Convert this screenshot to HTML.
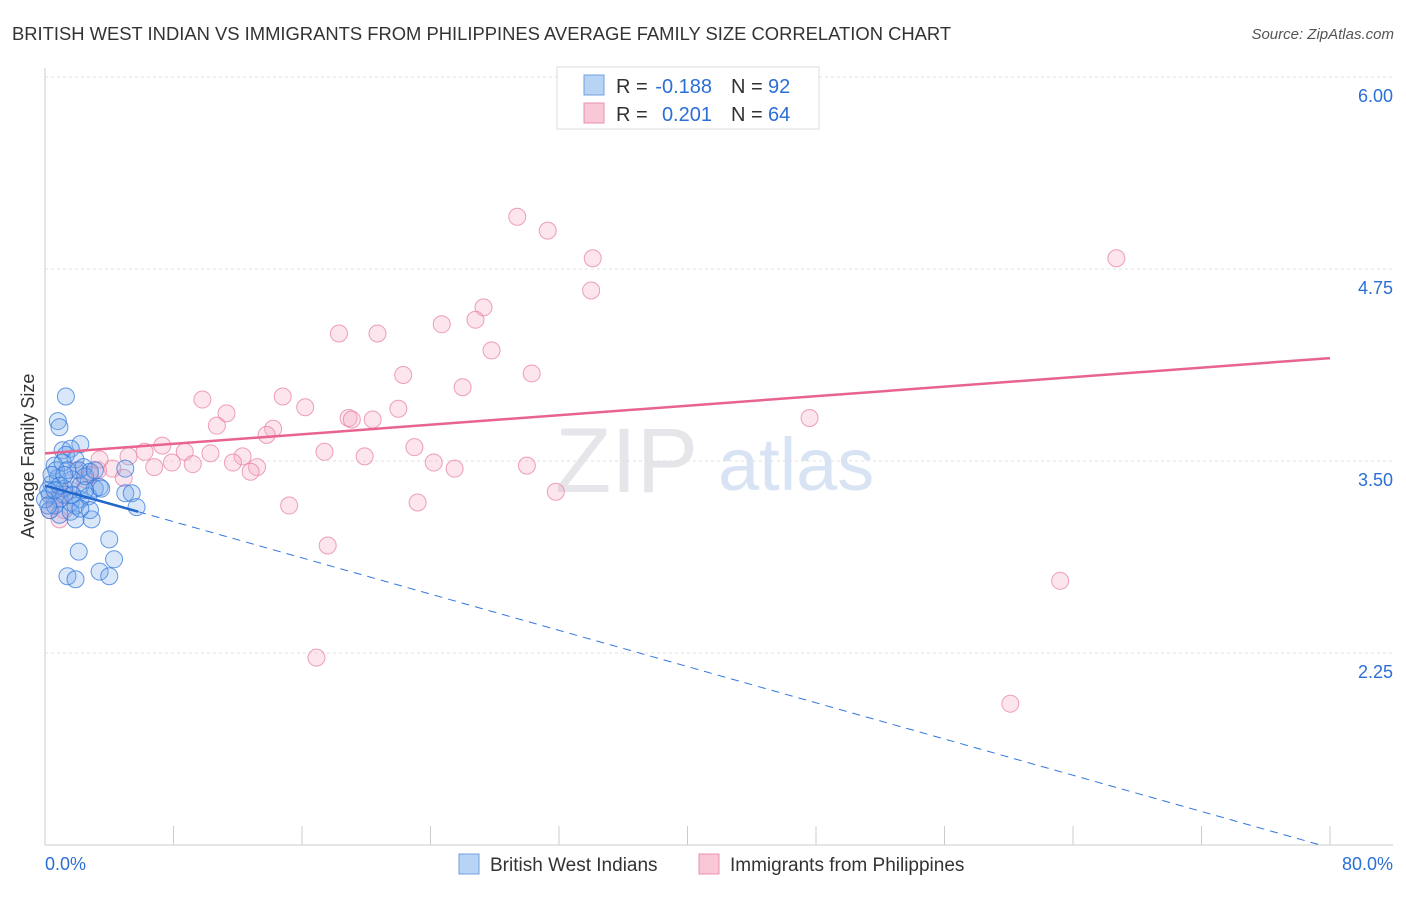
<!DOCTYPE html>
<html><head><meta charset="utf-8"><style>
body{margin:0;background:#fff;font-family:"Liberation Sans",sans-serif}
svg text{font-family:"Liberation Sans",sans-serif}
</style></head><body>
<svg id="c" width="1406" height="892">
<text x="12" y="40" font-size="18.4" fill="#333">BRITISH WEST INDIAN VS IMMIGRANTS FROM PHILIPPINES AVERAGE FAMILY SIZE CORRELATION CHART</text>
<text x="1394" y="39" font-size="15" fill="#555" font-style="italic" text-anchor="end">Source: ZipAtlas.com</text>
<text x="34" y="456" font-size="18" fill="#333" text-anchor="middle" transform="rotate(-90 34 456)">Average Family Size</text>
<text x="555" y="492" font-size="92" fill="#e6e6ea" font-family="Liberation Serif">ZIP</text>
<text x="718" y="490" font-size="74" fill="#d8e4f3">atlas</text>
<g id="grid"></g><g id="pts"></g><g id="trend"></g>
<g>
<rect x="557" y="67" width="262" height="62" fill="#fff" stroke="#ddd"/>
<rect x="584" y="75" width="20" height="20" fill="#b8d4f5" stroke="#6fa0e0"/>
<rect x="584" y="103" width="20" height="20" fill="#f9c8d6" stroke="#eb90ac"/>
<text x="616" y="93" font-size="20" fill="#333">R =</text>
<text x="712" y="93" font-size="20" fill="#2b6fd6" text-anchor="end">-0.188</text>
<text x="731" y="93" font-size="20" fill="#333">N =</text>
<text x="768" y="93" font-size="20" fill="#2b6fd6">92</text>
<text x="616" y="121" font-size="20" fill="#333">R =</text>
<text x="712" y="121" font-size="20" fill="#2b6fd6" text-anchor="end">0.201</text>
<text x="731" y="121" font-size="20" fill="#333">N =</text>
<text x="768" y="121" font-size="20" fill="#2b6fd6">64</text>
</g>
<g>
<rect x="459" y="854" width="20" height="20" fill="#b8d4f5" stroke="#6fa0e0"/>
<text x="490" y="871" font-size="19" fill="#333">British West Indians</text>
<rect x="699" y="854" width="20" height="20" fill="#f9c8d6" stroke="#eb90ac"/>
<text x="730" y="871" font-size="19" fill="#333">Immigrants from Philippines</text>
</g>
<text x="45" y="870" font-size="18" fill="#2b6fd6">0.0%</text>
<text x="1393" y="870" font-size="18" fill="#2b6fd6" text-anchor="end">80.0%</text>
</svg>
<script>
const yTicks=[6.00,4.75,3.50,2.25];
const yTickLabels=["6.00","4.75","3.50","2.25"];
const blueX=[1.3,0.8,0.9,2.2,1.1,1.6,1.3,1.9,0.6,2.4,2.1,2.8,0.8,0.4,1.2,1.7,2.2,3.1,0.3,0.9,1.6,2.2,2.7,3.4,3.5,5.0,5.4,5.7,5.0,2.9,1.9,0.9,0.3,0.6,1.2,2.5,3.1,4.0,2.1,1.4,1.9,3.4,4.0,4.3,0.7,1.1,0.2,0.4,1.4,2.5,1.9,2.8,0.9,0.0,0.2,1.6,2.2,0.6,1.2,1.7];
const blueY=[3.92,3.76,3.72,3.61,3.57,3.58,3.54,3.51,3.47,3.46,3.44,3.43,3.39,3.35,3.32,3.38,3.34,3.32,3.28,3.25,3.23,3.25,3.27,3.33,3.32,3.29,3.29,3.20,3.45,3.12,3.12,3.15,3.18,3.21,3.28,3.40,3.44,2.99,2.91,2.75,2.73,2.78,2.75,2.86,3.44,3.49,3.31,3.41,3.44,3.31,3.21,3.18,3.34,3.25,3.21,3.17,3.19,3.31,3.41,3.28];
const pinkX=[29.4,31.3,34.1,34.0,66.7,27.3,26.8,24.7,18.3,20.7,27.8,22.3,30.3,26.0,9.8,14.8,16.2,11.3,22.0,18.9,19.1,20.4,47.6,10.7,14.2,13.8,7.3,23.0,17.4,6.2,8.7,10.3,19.9,12.3,5.2,11.7,13.2,24.2,25.5,30.0,7.9,9.2,6.8,4.2,3.3,12.8,4.9,31.8,15.2,23.2,17.6,63.2,16.9,60.1,0.9,0.3,1.6,2.5,0.9,1.9,3.4,0.6,2.8,1.2];
const pinkY=[5.09,5.00,4.82,4.61,4.82,4.50,4.42,4.39,4.33,4.33,4.22,4.06,4.07,3.98,3.90,3.92,3.85,3.81,3.84,3.78,3.77,3.77,3.78,3.73,3.71,3.67,3.60,3.59,3.56,3.56,3.56,3.55,3.53,3.53,3.53,3.49,3.46,3.49,3.45,3.47,3.49,3.48,3.46,3.45,3.44,3.43,3.39,3.30,3.21,3.23,2.95,2.72,2.22,1.92,3.12,3.18,3.31,3.38,3.28,3.44,3.51,3.25,3.41,3.18];
const blueTrend=[[0,3.34],[5.8,3.17],[79.4,1.0]];
const pinkTrend=[[0,3.55],[80,4.17]];
const X=v=>45+v/80*1285, Y=v=>845-(v-1)*153.6;
const NS="http://www.w3.org/2000/svg";
function mk(t,a,p){const e=document.createElementNS(NS,t);for(const k in a)e.setAttribute(k,a[k]);p.appendChild(e);return e;}
const g=document.getElementById('grid');
yTicks.forEach((v,i)=>{
 const l=mk('line',{x1:45,x2:1393,y1:Y(v),y2:Y(v),stroke:'#e2e2e2','stroke-dasharray':'3,3'},g);
 
 
 const t=mk('text',{x:1393,y:Y(v)+25,'font-size':18,fill:'#2b6fd6','text-anchor':'end'},g);
 t.textContent=yTickLabels[i];
 
 
});
mk('line',{x1:45,x2:45,y1:68,y2:845,stroke:'#ccc'},g);
mk('line',{x1:45,x2:1393,y1:845,y2:845,stroke:'#ccc'},g);
for(let i=0;i<=10;i++){const tk=mk('line',{x1:X(i*8),x2:X(i*8),y1:826,y2:845,stroke:'#ccc'},g);
 
 }
const p=document.getElementById('pts');
pinkX.forEach((x,i)=>{const c=mk('circle',{cx:X(x),cy:Y(pinkY[i]),r:8.5,fill:'rgba(246,170,194,0.3)',stroke:'rgba(232,130,162,0.75)','stroke-width':1},p);
 
 });
blueX.forEach((x,i)=>{const c=mk('circle',{cx:X(x),cy:Y(blueY[i]),r:8.5,fill:'rgba(120,170,235,0.28)',stroke:'rgba(50,120,220,0.75)','stroke-width':1},p);
 
 });
const tr=document.getElementById('trend');
let a=mk('line',{x1:X(blueTrend[0][0]),y1:Y(blueTrend[0][1]),x2:X(blueTrend[1][0]),y2:Y(blueTrend[1][1]),stroke:'#2266cc','stroke-width':2.5},tr);


a=mk('line',{x1:X(blueTrend[1][0]),y1:Y(blueTrend[1][1]),x2:X(blueTrend[2][0]),y2:Y(blueTrend[2][1]),stroke:'#3377dd','stroke-width':1,'stroke-dasharray':'8,6'},tr);


a=mk('line',{x1:X(pinkTrend[0][0]),y1:Y(pinkTrend[0][1]),x2:X(pinkTrend[1][0]),y2:Y(pinkTrend[1][1]),stroke:'#e8638d','stroke-width':2.5},tr);


</script>
</body></html>
